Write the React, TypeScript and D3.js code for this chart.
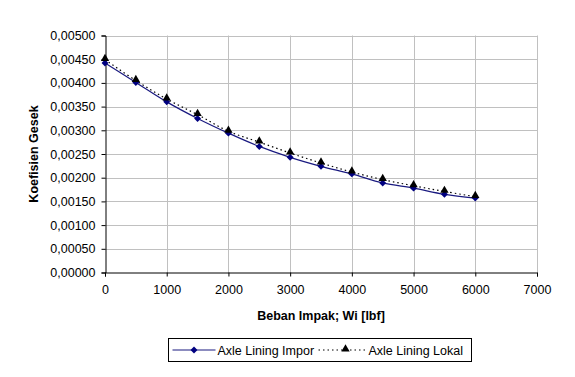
import React, { useEffect, useRef } from 'react';
import * as d3 from 'd3';

// beban impak (lbf)
const loads = [0, 500, 1000, 1500, 2000, 2500, 3000, 3500, 4000, 4500, 5000, 5500, 6000];
const imporValues = [0.00442, 0.00401, 0.0036, 0.00325, 0.00294, 0.00266, 0.00243, 0.00224, 0.00208, 0.00189, 0.00178, 0.00165, 0.00157];
const lokalValues = [0.00449, 0.00405, 0.00366, 0.00333, 0.00298, 0.00275, 0.00252, 0.00231, 0.00212, 0.00196, 0.00183, 0.00171, 0.0016];
const xTicks = [0, 1000, 2000, 3000, 4000, 5000, 6000, 7000];
const yTicks = [0, 0.0005, 0.001, 0.0015, 0.002, 0.0025, 0.003, 0.0035, 0.004, 0.0045, 0.005];
const seriesNames = ['Axle Lining Impor', 'Axle Lining Lokal'];

const FONT = 'Liberation Sans, Arial, sans-serif';
const FS = 12.5;

const App = () => {
  const ref = useRef<SVGSVGElement>(null);

  useEffect(() => {
    const svg = d3.select(ref.current);
    svg.selectAll('*').remove();

    const left = 105, right = 537, top = 35.5, bottom = 272.5;
    const x = d3.scaleLinear().domain([0, 7000]).range([left, right]);
    const y = d3.scaleLinear().domain([0, 0.005]).range([bottom, top]);
    const fmt = (v: number) => v.toFixed(5).replace('.', ',');

    // grid
    const grid = svg.append('g').attr('stroke', '#c0c0c0').attr('stroke-width', 1);
    grid.selectAll('line.h')
      .data(yTicks.slice(1))
      .join('line')
      .attr('class', 'h')
      .attr('x1', left).attr('x2', right)
      .attr('y1', d => Math.round(y(d)) + 0.5).attr('y2', d => Math.round(y(d)) + 0.5);
    grid.selectAll('line.v')
      .data(xTicks.slice(1))
      .join('line')
      .attr('class', 'v')
      .attr('x1', d => Math.round(x(d)) + 0.5).attr('x2', d => Math.round(x(d)) + 0.5)
      .attr('y1', top).attr('y2', bottom);

    // axes
    const yAxis = svg.append('g')
      .attr('transform', `translate(${left + 0.5},0)`)
      .call(d3.axisLeft(y).tickValues(yTicks).tickFormat(d => fmt(d as number)).tickSizeOuter(0).tickSize(4).tickPadding(6));
    const xAxis = svg.append('g')
      .attr('transform', `translate(0,${bottom})`)
      .call(d3.axisBottom(x).tickValues(xTicks).tickFormat(d3.format('d')).tickSizeOuter(0).tickSize(4).tickPadding(9));
    [yAxis, xAxis].forEach(a => {
      a.selectAll('text').attr('font-family', FONT).attr('font-size', FS).attr('fill', '#000');
      a.selectAll('line, path').attr('stroke', '#000');
    });

    const lineGen = (vals: number[]) => d3.line<number>()
      .x((_, i) => x(loads[i]))
      .y(d => y(d))
      .curve(d3.curveCatmullRom.alpha(0.5))(vals);

    // Lokal: dotted black with triangles
    svg.append('path')
      .attr('d', lineGen(lokalValues))
      .attr('fill', 'none').attr('stroke', '#000').attr('stroke-width', 1.2)
      .attr('stroke-dasharray', '1.5,3');
    // Impor: solid navy with diamonds
    svg.append('path')
      .attr('d', lineGen(imporValues))
      .attr('fill', 'none').attr('stroke', '#1a1a80').attr('stroke-width', 1.2);

    // square turned 45 degrees for the Impor markers
    const diamond = d3.symbol().type(d3.symbolSquare).size(24);
    const triangle = d3.symbol().type(d3.symbolTriangle).size(30);

    svg.append('g').selectAll('path')
      .data(imporValues)
      .join('path')
      .attr('d', diamond)
      .attr('transform', (d, i) => `translate(${x(loads[i])},${y(d)}) rotate(45)`)
      .attr('fill', '#000080');
    svg.append('g').selectAll('path')
      .data(lokalValues)
      .join('path')
      .attr('d', triangle)
      .attr('transform', (d, i) => `translate(${x(loads[i])},${y(d) - 1})`)
      .attr('fill', '#000');

    // axis titles
    svg.append('text')
      .attr('x', (left + right) / 2).attr('y', 320)
      .attr('text-anchor', 'middle')
      .attr('font-family', FONT).attr('font-size', FS).attr('font-weight', 'bold')
      .text('Beban Impak; Wi [lbf]');
    svg.append('text')
      .attr('transform', `translate(38,${(top + bottom) / 2}) rotate(-90)`)
      .attr('text-anchor', 'middle')
      .attr('font-family', FONT).attr('font-size', FS).attr('font-weight', 'bold')
      .text('Koefisien Gesek');

    // legend
    const lg = svg.append('g').attr('transform', 'translate(168.5,338.5)');
    lg.append('rect').attr('width', 303).attr('height', 23)
      .attr('fill', '#fff').attr('stroke', '#000').attr('stroke-width', 1);
    lg.append('line').attr('x1', 4).attr('x2', 47).attr('y1', 11.5).attr('y2', 11.5)
      .attr('stroke', '#1a1a80').attr('stroke-width', 1.2);
    lg.append('path').attr('d', diamond).attr('transform', 'translate(25.5,11.5) rotate(45)').attr('fill', '#000080');
    lg.append('text').attr('x', 49).attr('y', 16)
      .attr('font-family', FONT).attr('font-size', FS).text(seriesNames[0]);
    lg.append('line').attr('x1', 150).attr('x2', 197).attr('y1', 11.5).attr('y2', 11.5)
      .attr('stroke', '#000').attr('stroke-width', 1.2).attr('stroke-dasharray', '1.5,3');
    lg.append('path').attr('d', triangle).attr('transform', 'translate(177,10.5)').attr('fill', '#000');
    lg.append('text').attr('x', 200).attr('y', 16)
      .attr('font-family', FONT).attr('font-size', FS).text(seriesNames[1]);
  }, []);

  return (
    <svg ref={ref} width={575} height={377}
      style={{ position: 'absolute', left: 0, top: 0, background: '#fff' }} />
  );
};

export default App;
